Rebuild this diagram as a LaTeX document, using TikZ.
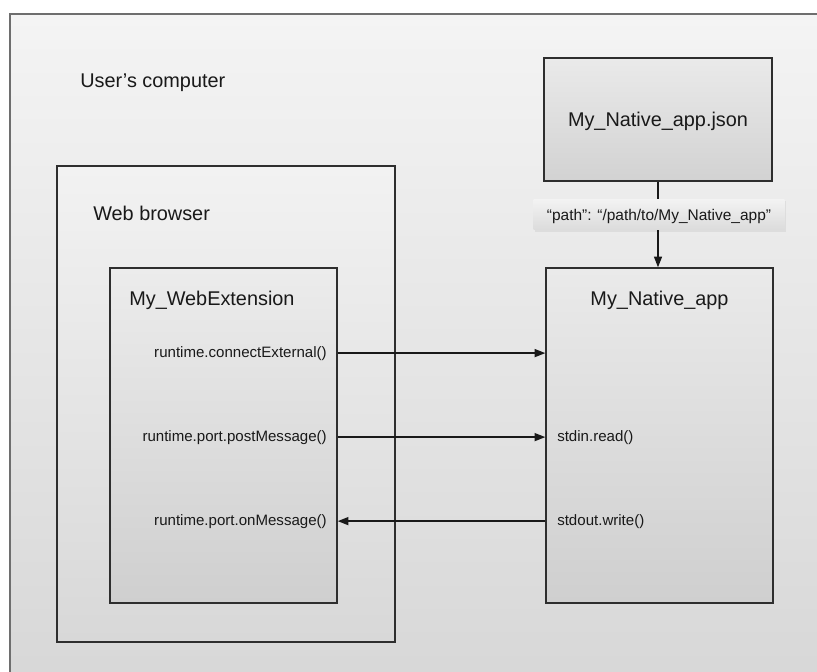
\documentclass[tikz,border=0pt]{standalone}
\usepackage{fontspec}
\setmainfont{Liberation Sans}
\usetikzlibrary{arrows.meta}
\definecolor{boxline}{HTML}{2E2E2E}
\definecolor{outerline}{HTML}{6E6E6E}
\begin{document}
\begin{tikzpicture}[x=0.75pt,y=-0.75pt,
  box/.style={draw=boxline, line width=1.1pt, rectangle, inner sep=0pt},
  head/.style={font=\fontsize{14.9}{17}\selectfont, inner sep=0pt, text=black!90},
  fn/.style={font=\fontsize{11.3}{13}\selectfont, inner sep=0pt, text=black!90},
  arr/.style={draw=black!90, line width=1.1pt, -{Triangle[length=8pt,width=6pt]}}]
\useasboundingbox (0,0) rectangle (817,671);
\fill[white] (0,0) rectangle (817,671);
\clip (0,0) rectangle (817,671);

% outer: user's computer
\node[box, draw=outerline, line width=1.5pt, top color={rgb,255:red,244;green,244;blue,244}, bottom color={rgb,255:red,215;green,215;blue,215},
  minimum width=622.5pt, minimum height=507pt] (computer) at (425,352) {};
\node[head, anchor=base west] (computerlbl) at (80,87) {User’s computer};

% web browser
\node[box, top color={rgb,255:red,242;green,242;blue,242}, bottom color={rgb,255:red,216;green,216;blue,216},
  minimum width=253.5pt, minimum height=357pt] (browser) at (226,404) {};
\node[head, anchor=base west] (browserlbl) at (93,220) {Web browser};

% web extension
\node[box, top color={rgb,255:red,236;green,236;blue,236}, bottom color={rgb,255:red,207;green,207;blue,207},
  minimum width=170.25pt, minimum height=251.25pt] (webext) at (223.5,435.5) {};
\node[head, anchor=base west] (webextlbl) at (129,305) {My\_WebExtension};

% native app
\node[box, top color={rgb,255:red,234;green,234;blue,234}, bottom color={rgb,255:red,207;green,207;blue,207},
  minimum width=170.25pt, minimum height=251.25pt] (native) at (659.5,435.5) {};
\node[head, anchor=base] (nativelbl) at (659.5,305) {My\_Native\_app};

% json manifest
\node[box, top color={rgb,255:red,234;green,234;blue,234}, bottom color={rgb,255:red,210;green,210;blue,210},
  minimum width=171pt, minimum height=92.25pt] (json) at (658,119.5) {};
\node[head, anchor=base] (jsonlbl) at (658,126) {My\_Native\_app.json};

% connector json -> native
\draw[arr] (json.south -| 658,0) -- (native.north -| 658,0);
\fill[black, opacity=0.06] (535,201) rectangle (786,232);
\node[rectangle, inner sep=0pt, top color={rgb,255:red,243;green,243;blue,243}, bottom color={rgb,255:red,220;green,220;blue,220},
  minimum width=188pt, minimum height=22.5pt] (pathbox) at (659,214) {};
\node[fn, font=\fontsize{11.6}{13}\selectfont, anchor=base] (pathlbl) at (659,220) {“path”: “/path/to/My\_Native\_app”};

% function labels
\node[fn, anchor=base east] (conn) at (327,357) {runtime.connectExternal()};
\node[fn, anchor=base east] (post) at (327,441) {runtime.port.postMessage()};
\node[fn, anchor=base east] (onmsg) at (327,525) {runtime.port.onMessage()};
\node[fn, anchor=base west] (stdin) at (557,441) {stdin.read()};
\node[fn, anchor=base west] (stdout) at (557,525) {stdout.write()};

% arrows
\draw[arr] (webext.east |- conn.east) -- (native.west |- conn.east);
\draw[arr] (webext.east |- post.east) -- (native.west |- post.east);
\draw[arr] (native.west |- onmsg.east) -- (webext.east |- onmsg.east);
\end{tikzpicture}
\end{document}
